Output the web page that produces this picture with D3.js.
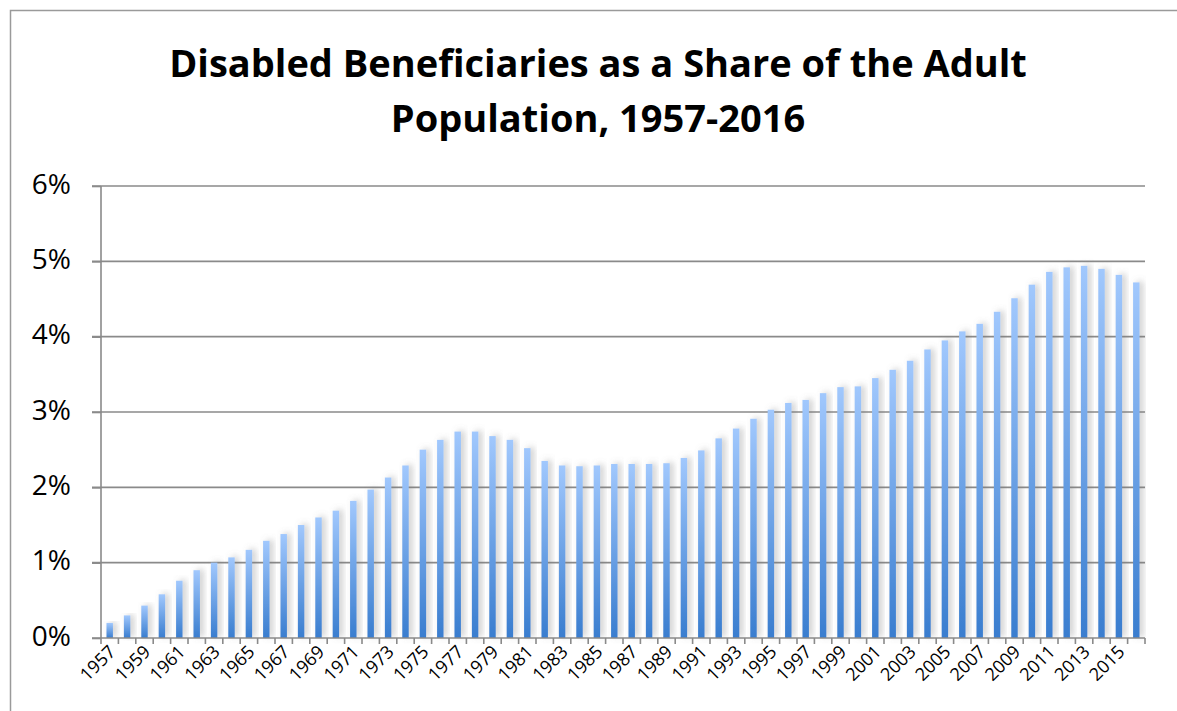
<!DOCTYPE html>
<html><head><meta charset="utf-8">
<script src="https://cdn.jsdelivr.net/npm/d3@7"></script>
<style>body{margin:0;background:#fff;} svg{display:block;}</style>
</head><body>
<svg id="chart" width="1177" height="711"></svg>
<script>
const years = d3.range(1957, 2017).map(String);
const shares = [0.20,0.30,0.43,0.58,0.76,0.90,1.00,1.07,1.17,1.29,
  1.38,1.50,1.60,1.69,1.82,1.97,2.13,2.29,2.50,2.63,
  2.74,2.74,2.68,2.63,2.52,2.35,2.29,2.28,2.29,2.31,
  2.31,2.31,2.32,2.39,2.49,2.65,2.78,2.91,3.03,3.12,
  3.16,3.25,3.33,3.34,3.45,3.56,3.68,3.83,3.95,4.07,
  4.17,4.33,4.51,4.69,4.86,4.92,4.94,4.90,4.82,4.72];
const yTicks = [0,1,2,3,4,5,6];
const titleLines = ["Disabled Beneficiaries as a Share of the Adult","Population, 1957-2016"];

const svg = d3.select("#chart");
const m = {left:101, right:1145, top:186, bottom:638};

// border
svg.append("path").attr("d","M10.5,711 V10.5 H1177").attr("fill","none").attr("stroke","#9a9a9a").attr("stroke-width",1.5);

const defs = svg.append("defs");
const grad = defs.append("linearGradient").attr("id","barGrad").attr("x1",0).attr("y1",0).attr("x2",0).attr("y2",1);
grad.append("stop").attr("offset","0%").attr("stop-color","#a1c8fd");
grad.append("stop").attr("offset","100%").attr("stop-color","#397dcf");
const f = defs.append("filter").attr("id","shadow").attr("x","-50%").attr("y","-10%").attr("width","250%").attr("height","120%");
f.append("feDropShadow").attr("dx",3.5).attr("dy",-1).attr("stdDeviation",3).attr("flood-color","#777").attr("flood-opacity",0.38);

const x = d3.scaleBand().domain(years).range([m.left, m.right]).paddingInner(0.63).paddingOuter(0.315);
const y = d3.scaleLinear().domain([0,6]).range([m.bottom, m.top]);

// gridlines
svg.append("g").selectAll("line").data(yTicks.filter(d=>d>0)).join("line")
  .attr("x1",92).attr("x2",m.right).attr("y1",d=>y(d)).attr("y2",d=>y(d))
  .attr("stroke","#8a8a8a").attr("stroke-width",1.6);

// bars
svg.append("g").selectAll("rect").data(shares).join("rect")
  .attr("x",(d,i)=>x(years[i])).attr("width",x.bandwidth())
  .attr("y",d=>y(d)).attr("height",d=>y(0)-y(d))
  .attr("fill","url(#barGrad)").attr("filter","url(#shadow)");

// y axis
const yAxis = d3.axisLeft(y).tickValues(yTicks).tickFormat(d=>d+"%").tickSize(9).tickPadding(21);
const ga = svg.append("g").attr("transform",`translate(${m.left},0)`).call(yAxis);
ga.select(".domain").attr("stroke","#8a8a8a").attr("stroke-width",1.6).attr("d",`M0,${m.top}V${m.bottom}`);
ga.selectAll(".tick line").attr("stroke","#8a8a8a").attr("stroke-width",1.6);
ga.selectAll(".tick text").attr("font-family","Open Sans, sans-serif").attr("font-size",28).attr("fill","#000").attr("dy","0.26em");

// x axis: band edges ticks
const xb = d3.scaleLinear().domain([0, years.length]).range([m.left, m.right]);
const gx = svg.append("g");
gx.append("line").attr("x1",92).attr("x2",m.right).attr("y1",m.bottom).attr("y2",m.bottom).attr("stroke","#8a8a8a").attr("stroke-width",1.6);
gx.selectAll("line.t").data(d3.range(years.length+1)).join("line").attr("class","t")
  .attr("x1",d=>xb(d)).attr("x2",d=>xb(d)).attr("y1",m.bottom).attr("y2",m.bottom+6)
  .attr("stroke","#8a8a8a").attr("stroke-width",1.6);
gx.selectAll("text").data(years.filter((d,i)=>i%2===0)).join("text")
  .attr("transform",d=>`translate(${x(d)+x.bandwidth()/2+7},${m.bottom+15}) rotate(-45)`)
  .attr("text-anchor","end").attr("font-family","Open Sans, sans-serif").attr("font-size",18).attr("fill","#000")
  .text(d=>d);

// title
svg.append("g").selectAll("text").data(titleLines).join("text")
  .attr("x",598).attr("y",(d,i)=>77+i*55).attr("text-anchor","middle")
  .attr("font-family","Open Sans, sans-serif").attr("font-weight","bold").attr("font-size",38).attr("fill","#000")
  .text(d=>d);
</script>
</body></html>
